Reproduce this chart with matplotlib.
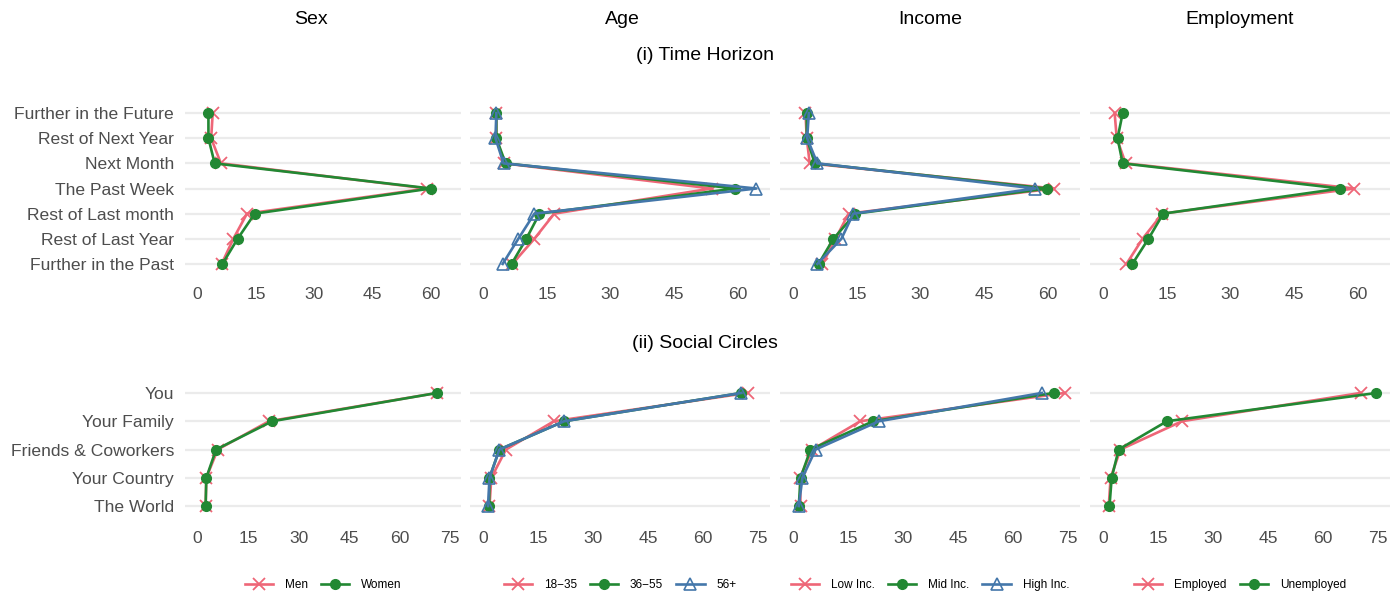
import matplotlib
matplotlib.use('Agg')
import matplotlib.pyplot as plt
from matplotlib.lines import Line2D

plt.rcParams['font.family'] = ['Liberation Sans', 'DejaVu Sans']

# categories (top to bottom)
time_cats = ['Further in the Future', 'Rest of Next Year', 'Next Month', 'The Past Week',
             'Rest of Last month', 'Rest of Last Year', 'Further in the Past']
circle_cats = ['You', 'Your Family', 'Friends & Coworkers', 'Your Country', 'The World']

# (i) time horizon, share in %
time_men = [3.9, 3.5, 6.0, 59.0, 12.7, 9.2, 6.2]
time_women = [2.8, 2.8, 4.4, 60.0, 14.7, 10.3, 6.4]
time_18_35 = [3.0, 3.0, 4.9, 53.9, 16.7, 12.0, 6.8]
time_36_55 = [3.0, 3.0, 5.2, 59.5, 13.2, 10.1, 6.6]
time_56 = [3.0, 2.8, 4.7, 64.5, 12.0, 8.2, 4.5]
time_low = [2.8, 3.1, 3.8, 61.6, 13.0, 9.9, 6.8]
time_mid = [3.1, 3.1, 5.0, 60.0, 14.6, 9.4, 5.9]
time_high = [3.6, 3.2, 5.6, 57.2, 14.1, 11.3, 5.6]
time_employed = [2.6, 3.1, 5.2, 59.3, 13.9, 9.2, 5.4]
time_unemployed = [4.5, 3.3, 4.5, 56.0, 14.1, 10.6, 6.8]

# (ii) social circles, share in %
circ_men = [71.1, 21.2, 6.0, 2.6, 2.4]
circ_women = [71.1, 22.2, 5.5, 2.6, 2.4]
circ_18_35 = [72.1, 19.2, 6.1, 2.1, 1.6]
circ_36_55 = [70.4, 22.0, 4.3, 1.6, 1.5]
circ_56 = [70.4, 22.0, 4.3, 1.6, 1.2]
circ_low = [74.0, 18.2, 5.1, 1.7, 1.9]
circ_mid = [71.0, 21.7, 4.6, 1.9, 1.4]
circ_high = [67.8, 23.3, 6.0, 2.4, 1.4]
circ_employed = [70.2, 21.4, 4.6, 1.9, 1.4]
circ_unemployed = [74.5, 17.3, 4.1, 2.2, 1.6]

groups = [
    ('Sex', ['Men', 'Women'], [time_men, time_women], [circ_men, circ_women]),
    ('Age', ['18\u221235', '36\u221255', '56+'], [time_18_35, time_36_55, time_56],
     [circ_18_35, circ_36_55, circ_56]),
    ('Income', ['Low Inc.', 'Mid Inc.', 'High Inc.'], [time_low, time_mid, time_high],
     [circ_low, circ_mid, circ_high]),
    ('Employment', ['Employed', 'Unemployed'], [time_employed, time_unemployed],
     [circ_employed, circ_unemployed]),
]

styles = [
    dict(color='#EE6677', marker='x', markersize=8, markeredgewidth=1.3),
    dict(color='#228833', marker='o', markersize=7),
    dict(color='#4477AA', marker='^', markersize=9, markerfacecolor='none', markeredgewidth=1.2),
]

W, H = 1398, 597
fig = plt.figure(figsize=(W / 100, H / 100), dpi=100)

cols_px = [(185, 461), (470, 770), (780, 1080), (1090, 1390)]
rows_px = [(98, 279), (376, 523)]
header_x = [311, 622, 930, 1240]


def add_panel(x0, x1, y0, y1):
    return fig.add_axes([x0 / W, 1 - y1 / H, (x1 - x0) / W, (y1 - y0) / H])


def row_limits(series_sets):
    hi = max(max(s) for ss in series_sets for s in ss)
    pad = 0.05 * hi
    return -pad, hi + pad


lims = [row_limits([g[2] for g in groups]), row_limits([g[3] for g in groups])]
ticks = [[0, 15, 30, 45, 60], [0, 15, 30, 45, 60, 75]]
cats = [time_cats, circle_cats]

for c, (name, labels, tseries, cseries) in enumerate(groups):
    for r, series in enumerate([tseries, cseries]):
        ax = add_panel(cols_px[c][0], cols_px[c][1], *rows_px[r])
        ypos = list(range(len(cats[r])))
        for i, vals in enumerate(series):
            ax.plot(vals, ypos, linewidth=1.9, label=labels[i], **styles[i])
        ax.set_xlim(*lims[r])
        ax.set_xticks(ticks[r])
        ax.set_ylim(len(ypos) - 1 + 0.6, -0.6)
        ax.set_yticks(ypos)
        if c == 0:
            ax.set_yticklabels(cats[r])
        else:
            ax.set_yticklabels([])
        ax.grid(axis='y', color='#EBEBEB', linewidth=1.6)
        ax.grid(axis='x', visible=False)
        ax.set_axisbelow(True)
        for s in ax.spines.values():
            s.set_visible(False)
        ax.tick_params(length=0, labelsize=12.6, labelcolor='#4D4D4D')
        ax.tick_params(axis='x', pad=6)
        ax.tick_params(axis='y', pad=8)

    # legend under each column
    handles = [Line2D([], [], linewidth=1.9, **styles[i]) for i in range(len(labels))]
    cx = (cols_px[c][0] + cols_px[c][1]) / 2 / W
    fig.legend(handles, labels, loc='center', bbox_to_anchor=(cx, 1 - 585 / H),
               ncol=len(labels), frameon=False, fontsize=8.5, handlelength=2.4,
               columnspacing=1.1, handletextpad=1.0)

    fig.text(header_x[c] / W, 1 - 20 / H, name, ha='center', va='center', fontsize=14)

fig.text(705 / W, 1 - 55 / H, '(i) Time Horizon', ha='center', va='center', fontsize=14)
fig.text(705 / W, 1 - 343 / H, '(ii) Social Circles', ha='center', va='center', fontsize=14)

fig.savefig('out.png', dpi=100, facecolor='white')
